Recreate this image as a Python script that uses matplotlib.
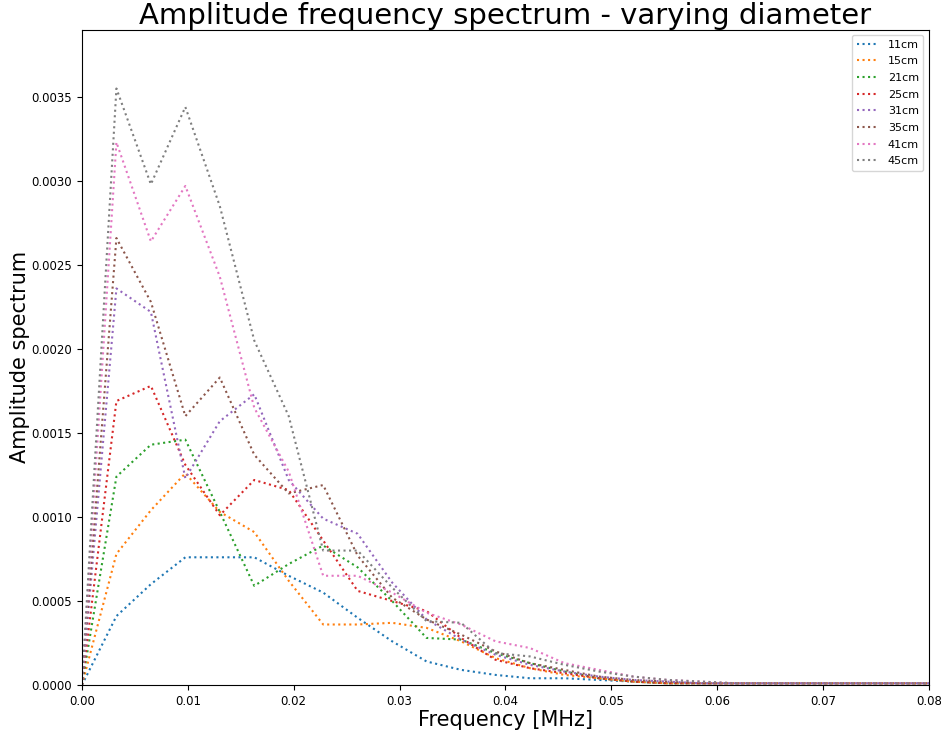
import numpy as np
import matplotlib
matplotlib.use('Agg')
import matplotlib.pyplot as plt

# Частотная ось: шаг 1/307.2 МГц
df = 1 / 307.2
freq = np.arange(26) * df

labels = ['11cm', '15cm', '21cm', '25cm', '31cm', '35cm', '41cm', '45cm']

tail = [0.00001] * 7

a11 = [0, 0.00041, 0.00060, 0.00076, 0.00076, 0.00076, 0.00065, 0.00055, 0.00040, 0.00026,
       0.00014, 0.00009, 0.00006, 0.00004, 0.00004, 0.00003, 0.00002, 0.00001, 0.00001] + tail
a15 = [0, 0.00078, 0.00104, 0.00126, 0.00103, 0.00091, 0.00062, 0.00036, 0.00036, 0.00037,
       0.00034, 0.00026, 0.00016, 0.00010, 0.00006, 0.00004, 0.00002, 0.00001, 0.00001] + tail
a21 = [0, 0.00124, 0.00143, 0.00146, 0.00103, 0.00059, 0.00072, 0.00083, 0.00070, 0.00050,
       0.00028, 0.00027, 0.00019, 0.00013, 0.00008, 0.00004, 0.00002, 0.00001, 0.00001] + tail
a25 = [0, 0.00169, 0.00178, 0.00131, 0.00101, 0.00122, 0.00116, 0.00086, 0.00056, 0.00050,
       0.00044, 0.00028, 0.00015, 0.00010, 0.00007, 0.00004, 0.00002, 0.00001, 0.00001] + tail
a31 = [0, 0.00236, 0.00222, 0.00123, 0.00157, 0.00173, 0.00122, 0.00099, 0.00090, 0.00061,
       0.00039, 0.00027, 0.00018, 0.00012, 0.00008, 0.00005, 0.00003, 0.00002, 0.00001] + tail
a35 = [0, 0.00266, 0.00228, 0.00160, 0.00183, 0.00137, 0.00114, 0.00119, 0.00077, 0.00052,
       0.00039, 0.00030, 0.00020, 0.00013, 0.00009, 0.00005, 0.00003, 0.00002, 0.00001] + tail
a41 = [0, 0.00323, 0.00264, 0.00297, 0.00243, 0.00165, 0.00127, 0.00065, 0.00065, 0.00055,
       0.00043, 0.00036, 0.00026, 0.00022, 0.00013, 0.00009, 0.00005, 0.00003, 0.00002] + tail
a45 = [0, 0.00355, 0.00298, 0.00344, 0.00285, 0.00205, 0.00160, 0.00080, 0.00080, 0.00058,
       0.00038, 0.00037, 0.00019, 0.00017, 0.00012, 0.00008, 0.00005, 0.00003, 0.00002] + tail

series = [a11, a15, a21, a25, a31, a35, a41, a45]

fig = plt.figure(figsize=(9.41, 7.33), dpi=100)
ax = fig.add_axes([0.0871, 0.0655, 0.9, 0.894])

for lab, amp in zip(labels, series):
    ax.plot(freq, amp, ':', label=lab)

ax.set_xlim(0, 0.08)
ax.set_ylim(0, 0.0039)
ax.set_title('Amplitude frequency spectrum - varying diameter', fontsize=21, pad=2)
ax.set_xlabel('Frequency [MHz]', fontsize=15, labelpad=2)
ax.set_ylabel('Amplitude spectrum', fontsize=15, labelpad=1)
ax.tick_params(labelsize=8.5)
ax.legend(loc='upper right', fontsize=8, labelspacing=0.6)

fig.savefig('out.png', dpi=100)
